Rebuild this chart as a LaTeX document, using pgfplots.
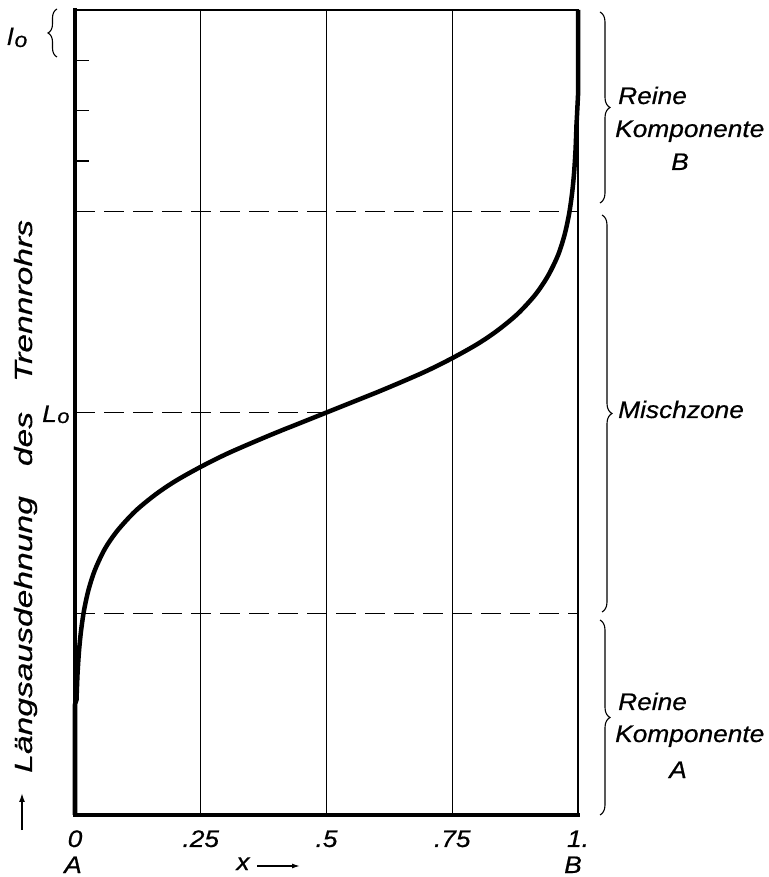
\documentclass[border=0pt]{standalone}
\usepackage{fontspec}
\usepackage{pgfplots}
\pgfplotsset{compat=1.18}
\usetikzlibrary{decorations.pathreplacing,arrows.meta}
\newfontfamily\lab[FakeStretch=1.1,FakeBold=0.6]{Liberation Sans}
\newfontfamily\ylab[FakeStretch=1.35,FakeBold=0.6]{Liberation Sans}
\newcommand{\lf}{\lab\itshape\fontsize{24}{28}\selectfont}
\begin{document}
\begin{tikzpicture}
\begin{axis}[
  at={(0,0)}, anchor=south west, scale only axis,
  width=503bp, height=805bp,
  xmin=0, xmax=1, ymin=0, ymax=16,
  axis line style={draw=none},
  clip=false,
  xtick={0,0.25,0.5,0.75,1},
  xticklabels={0,.25,.5,.75,1.},
  xtick style={draw=none},
  /pgf/number format/assume math mode=true,
  xticklabel style={font=\lf, anchor=base, yshift=-32bp},
  ytick={13,14,15}, yticklabels={}, ytick pos=left,
  tick align=inside, major tick length=14bp,
  ytick style={line width=1.2bp, black},
]
% grid lines
\addplot[black, line width=1.1bp] coordinates {(0.25,0) (0.25,16)};
\addplot[black, line width=1.1bp] coordinates {(0.5,0) (0.5,16)};
\addplot[black, line width=1.1bp] coordinates {(0.75,0) (0.75,16)};
% dashed levels
\addplot[black, line width=1.1bp, dash pattern=on 20bp off 9bp] coordinates {(0,4) (1,4)};
\addplot[black, line width=1.1bp, dash pattern=on 20bp off 9bp] coordinates {(0,8) (0.5,8)};
\addplot[black, line width=1.1bp, dash pattern=on 20bp off 9bp] coordinates {(0,12) (1,12)};
% curve
\addplot[black, line width=4.5bp, line join=round, line cap=round, smooth, tension=0.5] coordinates {
(0.003,2.29) (0.005,2.80) (0.008,3.26) (0.012,3.66) (0.018,4.07) (0.027,4.48)
(0.04,4.88) (0.06,5.30) (0.085,5.66) (0.12,6.04) (0.16,6.37) (0.2,6.64)
(0.25,6.92) (0.3,7.17) (0.35,7.39) (0.4,7.60) (0.45,7.80) (0.5,8.0)
(0.55,8.20) (0.6,8.40) (0.65,8.61) (0.7,8.83) (0.75,9.08) (0.8,9.36)
(0.84,9.63) (0.88,9.96) (0.915,10.34) (0.94,10.71) (0.96,11.12) (0.973,11.52)
(0.982,11.93) (0.988,12.34) (0.992,12.74) (0.995,13.20) (0.997,13.71)};
\addplot[black, line width=4.5bp, line join=round] coordinates {(0,0) (0,2.2) (0.003,2.29)};
\addplot[black, line width=4.5bp, line join=round] coordinates {(0.997,13.71) (1,14.3) (1,16)};
% frame
\draw[line width=1.3bp, line cap=rect] (axis cs:1,0) -- (axis cs:1,16);
\draw[line width=2bp, line cap=rect] (axis cs:0,16) -- (axis cs:1,16);
\draw[line width=4bp, line cap=rect] (axis cs:0,0) -- (axis cs:0,16);
\draw[line width=3bp, line cap=rect] (axis cs:0,0) -- (axis cs:1,0);
\end{axis}
% braces
\draw[decorate, decoration={brace, amplitude=9bp}, line width=1.1bp] (-18bp,758bp) -- (-18bp,806bp);
\draw[decorate, decoration={brace, amplitude=10bp}, line width=1.1bp] (525bp,803bp) -- (525bp,612bp);
\draw[decorate, decoration={brace, amplitude=10bp}, line width=1.1bp] (527bp,600bp) -- (527bp,203bp);
\draw[decorate, decoration={brace, amplitude=10bp}, line width=1.1bp] (525bp,195bp) -- (525bp,0bp);
% right texts
\node[anchor=base west, inner sep=0pt, font=\lf] at (543bp,711bp) {Reine};
\node[anchor=base west, inner sep=0pt, font=\lf] at (540bp,678bp) {Komponente};
\node[anchor=base, inner sep=0pt, font=\lf] at (605bp,645bp) {B};
\node[anchor=base west, inner sep=0pt, font=\lf] at (543bp,397bp) {Mischzone};
\node[anchor=base west, inner sep=0pt, font=\lf] at (543bp,105bp) {Reine};
\node[anchor=base west, inner sep=0pt, font=\lf] at (540bp,73bp) {Komponente};
\node[anchor=base, inner sep=0pt, font=\lf] at (603bp,37bp) {A};
% left labels
\node[anchor=base west, inner sep=0pt, font=\lf] at (-68bp,770bp) {l\kern1.5bp\lower2bp\hbox{\fontsize{21}{24}\selectfont o}};
\node[anchor=base west, inner sep=0pt, font=\lf] at (-33bp,393bp) {L\kern0.5bp\lower1bp\hbox{\fontsize{20}{24}\selectfont o}};
% y label
\node[anchor=base west, inner sep=0pt, rotate=90, font=\ylab\itshape\fontsize{25}{28}\selectfont] at (-43bp,42bp) {Längsausdehnung\hspace{30bp}des\hspace{30bp}Trennrohrs};
\draw[line width=1.6bp, -{Latex[length=9bp,width=6bp]}] (-53bp,-15bp) -- (-53bp,22bp);
% bottom row
\node[anchor=base, inner sep=0pt, font=\lf] at (-2bp,-58bp) {A};
\node[anchor=base, inner sep=0pt, font=\lf] at (498bp,-58bp) {B};
\node[anchor=base, inner sep=0pt, font=\lf] at (168bp,-55bp) {x};
\draw[line width=1.4bp, -{Latex[length=8bp,width=5bp]}] (182bp,-51bp) -- (225bp,-51bp);
\pgfresetboundingbox
\path[use as bounding box] (-75bp,-62bp) rectangle (694bp,815bp);
\end{tikzpicture}
\end{document}
